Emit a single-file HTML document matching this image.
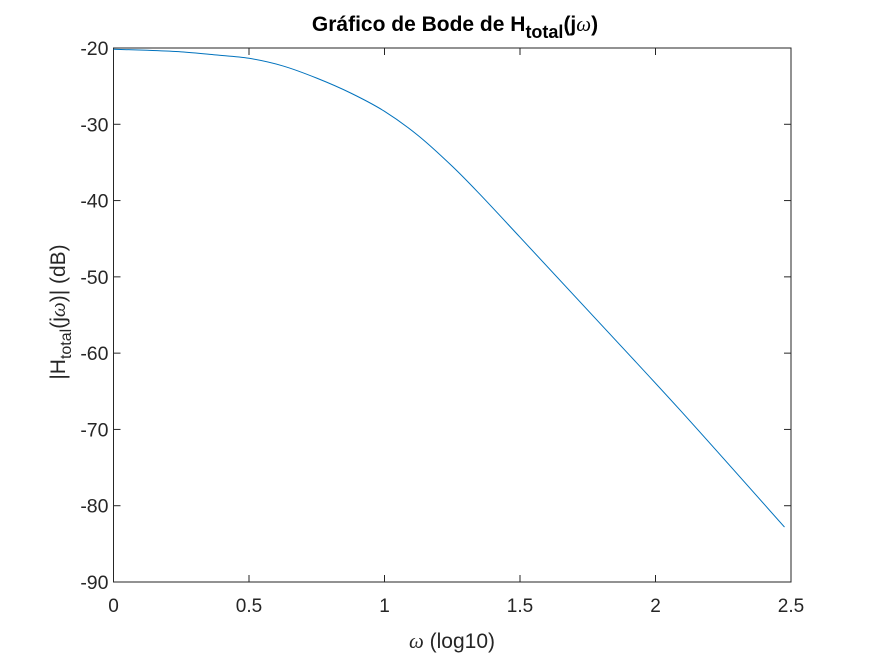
<!DOCTYPE html>
<html><head><meta charset="utf-8"><style>
body{margin:0;background:#fff;width:875px;height:656px;overflow:hidden;font-family:"Liberation Sans",Arial,sans-serif}
</style></head><body>
<svg id="chart" width="875" height="656" xmlns="http://www.w3.org/2000/svg" font-family="Liberation Sans, Arial, sans-serif">
<rect width="875" height="656" fill="#fff"/>
<g id="axes"></g>
<text x="455" y="31" text-anchor="middle" font-size="21" font-weight="bold" fill="#000">Gráfico de Bode de H<tspan font-size="18" dy="7">total</tspan><tspan dy="-7">(j</tspan><tspan font-family="Liberation Serif, serif" font-style="italic" font-weight="normal">ω</tspan>)</text>
<text x="452" y="648" text-anchor="middle" font-size="21" fill="#262626"><tspan font-family="Liberation Serif, serif" font-style="italic">ω</tspan> (log10)</text>
<text transform="translate(65,312) rotate(-90)" text-anchor="middle" font-size="21" fill="#262626">|H<tspan font-size="16" dy="6">total</tspan><tspan dy="-6">(j</tspan><tspan font-family="Liberation Serif, serif" font-style="italic">ω</tspan>)| (dB)</text>
</svg>
<script>
const xValues=[0,0.125,0.25,0.375,0.5,0.625,0.75,0.875,1,1.125,1.25,1.35,1.5,1.756,2.089,2.476];
const yValues=[-20.17,-20.3,-20.5,-20.9,-21.35,-22.35,-23.95,-25.9,-28.3,-31.5,-35.5,-39.1,-44.8,-54.6,-67.4,-82.8];
const xTicks=[0,0.5,1,1.5,2,2.5];
const xTickLabels=["0","0.5","1","1.5","2","2.5"];
const yTicks=[-20,-30,-40,-50,-60,-70,-80,-90];
const yTickLabels=["-20","-30","-40","-50","-60","-70","-80","-90"];

const L=113.5,R=791,T=48,B=582;
const sx=v=>L+(v-0)/(2.5-0)*(R-L);
const sy=v=>T+(-20-v)/(-20-(-90))*(B-T);
const NS="http://www.w3.org/2000/svg";
const g=document.getElementById('axes');
function mk(tag,attrs){const e=document.createElementNS(NS,tag);for(const k in attrs)e.setAttribute(k,attrs[k]);g.appendChild(e);return e;}
const box=mk('rect',{x:L,y:T,width:R-L,height:B-T,fill:'none',stroke:'#262626','stroke-width':1});


xTicks.forEach((v,i)=>{
  const x=sx(v);
  const t1=mk('line',{x1:x,x2:x,y1:B,y2:B-7,stroke:'#262626'});
  
  
  const t2=mk('line',{x1:x,x2:x,y1:T,y2:T+7,stroke:'#262626'});
  
  
  const lb=mk('text',{x:x,y:B+30,'text-anchor':'middle','font-size':19,fill:'#262626'});
  lb.textContent=xTickLabels[i];
  
  
});
yTicks.forEach((v,i)=>{
  const y=sy(v);
  const t1=mk('line',{x1:L,x2:L+7,y1:y,y2:y,stroke:'#262626'});
  
  
  const t2=mk('line',{x1:R,x2:R-7,y1:y,y2:y,stroke:'#262626'});
  
  
  const lb=mk('text',{x:L-5,y:y+7,'text-anchor':'end','font-size':19.5,fill:'#262626'});
  lb.textContent=yTickLabels[i];
  
  
});
const pts=xValues.map((v,i)=>[sx(v),sy(yValues[i])]);
let d='M'+pts[0][0]+','+pts[0][1];
for(let i=0;i<pts.length-1;i++){
  const p0=pts[i-1]||pts[i],p1=pts[i],p2=pts[i+1],p3=pts[i+2]||p2;
  const c1x=p1[0]+(p2[0]-p0[0])/6,c1y=p1[1]+(p2[1]-p0[1])/6;
  const c2x=p2[0]-(p3[0]-p1[0])/6,c2y=p2[1]-(p3[1]-p1[1])/6;
  d+=' C'+c1x+','+c1y+' '+c2x+','+c2y+' '+p2[0]+','+p2[1];
}
const line=mk('path',{d:d,fill:'none',stroke:'#0072bd','stroke-width':1});


</script>
</body></html>
